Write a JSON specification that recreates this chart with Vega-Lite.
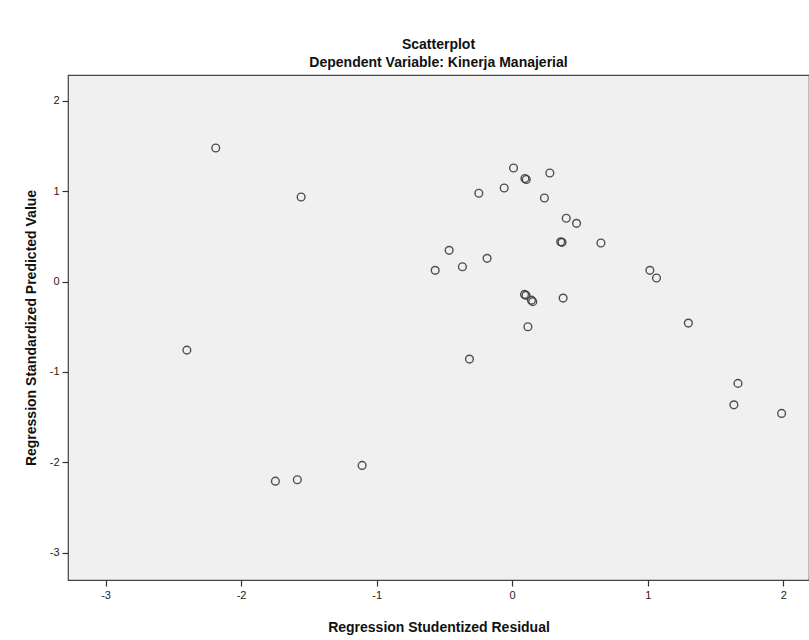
{
  "$schema": "https://vega.github.io/schema/vega-lite/v6.json",
  "width": 741,
  "height": 505,
  "autosize": {"type": "none"},
  "padding": {"left": 68, "top": 75, "right": 0, "bottom": 60},
  "background": "white",
  "title": {
    "text": "Scatterplot",
    "subtitle": "Dependent Variable: Kinerja Manajerial",
    "anchor": "middle",
    "font": "Liberation Sans",
    "fontSize": 14,
    "fontWeight": "bold",
    "color": "#111",
    "subtitleFont": "Liberation Sans",
    "subtitleFontSize": 14,
    "subtitleFontWeight": "bold",
    "subtitleColor": "#111",
    "subtitlePadding": 4,
    "offset": 5
  },
  "config": {
    "view": {"fill": "#f0f0f0", "stroke": "#444", "strokeWidth": 1.2},
    "axis": {
      "domain": false,
      "grid": false,
      "ticks": true,
      "tickColor": "#333",
      "tickSize": 6,
      "tickWidth": 1.2,
      "labelFont": "Liberation Sans",
      "labelFontSize": 11,
      "labelColor": "#222",
      "labelPadding": 3,
      "titleFont": "Liberation Sans",
      "titleFontSize": 14,
      "titleFontWeight": "bold",
      "titleColor": "#111"
    }
  },
  "data": {
    "values": [
      {"resid": 0.01, "pred": 1.256},
      {"resid": 0.094, "pred": 1.14},
      {"resid": 0.104, "pred": 1.128},
      {"resid": 0.278, "pred": 1.20},
      {"resid": -0.246, "pred": 0.976},
      {"resid": -0.059, "pred": 1.034},
      {"resid": 0.238, "pred": 0.924},
      {"resid": 0.399, "pred": 0.70},
      {"resid": 0.475, "pred": 0.644},
      {"resid": 0.358, "pred": 0.44},
      {"resid": 0.368, "pred": 0.434},
      {"resid": 0.655, "pred": 0.426},
      {"resid": -0.465, "pred": 0.345},
      {"resid": -0.185, "pred": 0.257},
      {"resid": -0.568, "pred": 0.124},
      {"resid": -0.367, "pred": 0.164},
      {"resid": 1.016, "pred": 0.124},
      {"resid": 1.065, "pred": 0.039},
      {"resid": 0.091, "pred": -0.142},
      {"resid": 0.102, "pred": -0.152},
      {"resid": 0.142, "pred": -0.206},
      {"resid": 0.152, "pred": -0.222},
      {"resid": 0.376, "pred": -0.183},
      {"resid": 0.116, "pred": -0.50},
      {"resid": -2.187, "pred": 1.477},
      {"resid": -1.557, "pred": 0.935},
      {"resid": -2.40, "pred": -0.758},
      {"resid": -1.747, "pred": -2.207},
      {"resid": -1.585, "pred": -2.192},
      {"resid": -1.107, "pred": -2.033},
      {"resid": -0.315, "pred": -0.857},
      {"resid": 1.30, "pred": -0.459},
      {"resid": 1.666, "pred": -1.126},
      {"resid": 1.636, "pred": -1.363},
      {"resid": 1.988, "pred": -1.458}
    ]
  },
  "mark": {"type": "point", "filled": false, "stroke": "#333", "strokeWidth": 1.4, "size": 60, "opacity": 0.85, "clip": true},
  "encoding": {
    "x": {
      "field": "resid",
      "type": "quantitative",
      "title": "Regression Studentized Residual",
      "scale": {"domain": [-3.277, 2.19], "nice": false, "zero": false},
      "axis": {"values": [-3, -2, -1, 0, 1, 2], "labelExpr": "'' + datum.value", "titlePadding": 20}
    },
    "y": {
      "field": "pred",
      "type": "quantitative",
      "title": "Regression Standardized Predicted Value",
      "scale": {"domain": [-3.30, 2.284], "nice": false, "zero": false},
      "axis": {"values": [-3, -2, -1, 0, 1, 2], "labelExpr": "'' + datum.value", "titlePadding": 11}
    }
  }
}
